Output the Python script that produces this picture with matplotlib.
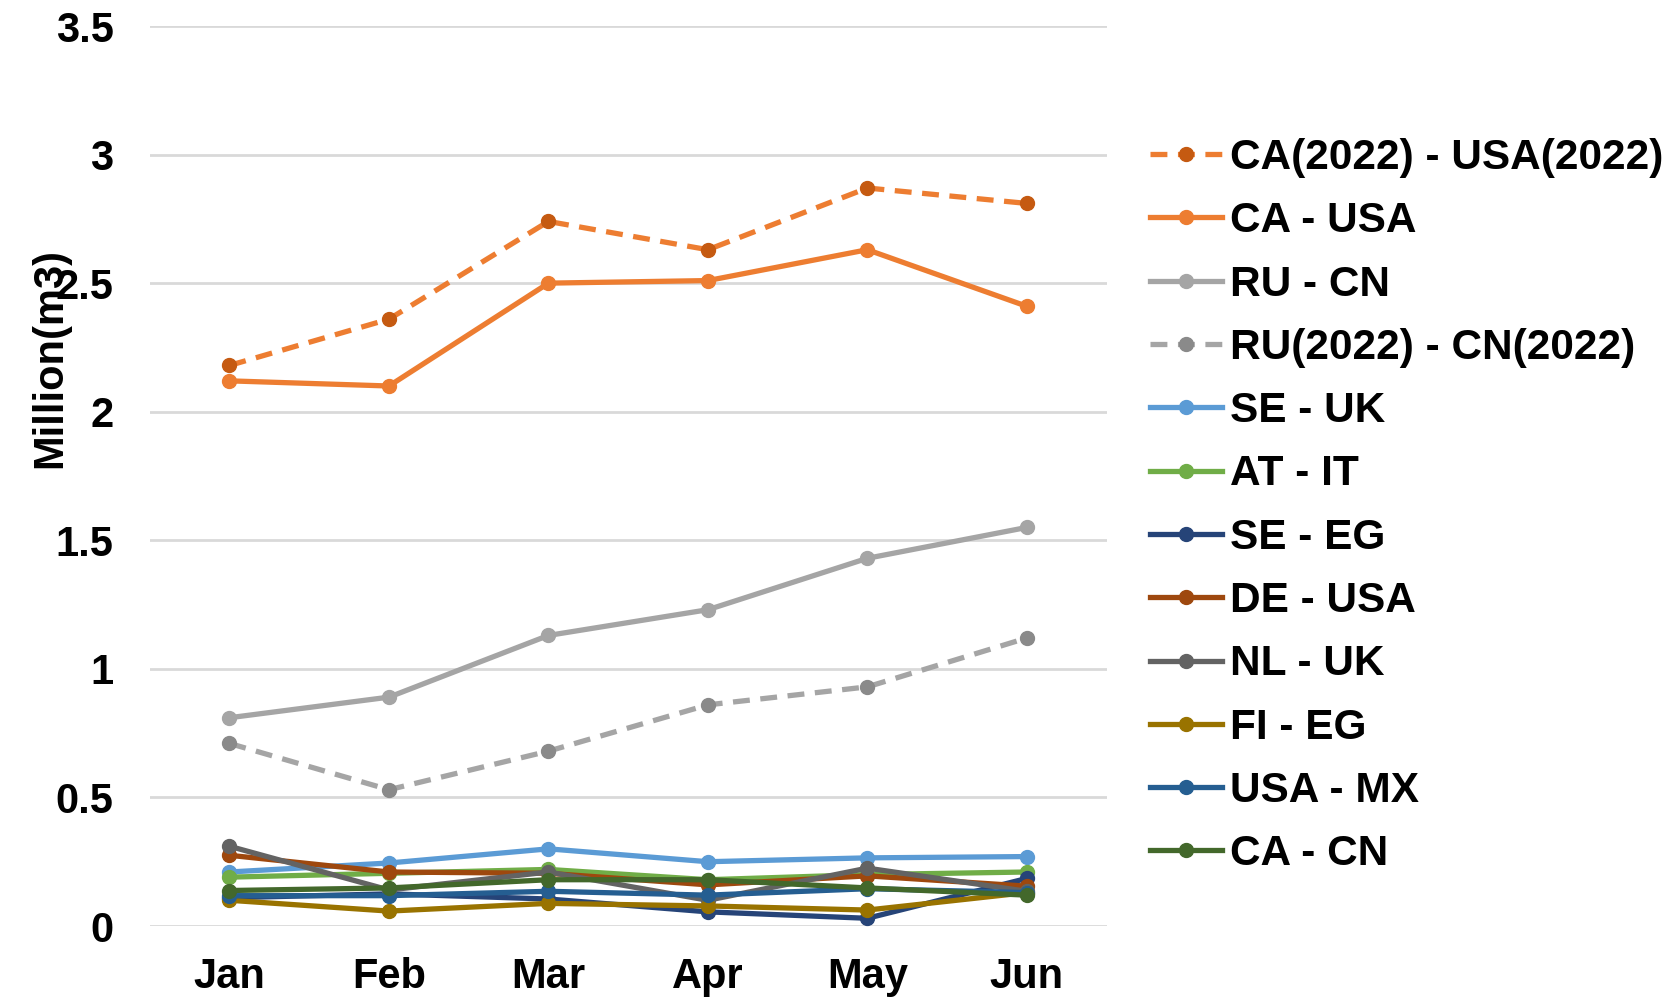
import matplotlib
matplotlib.use("Agg")
import matplotlib.pyplot as plt

plt.rcParams['font.family'] = ['Liberation Sans', 'DejaVu Sans']
plt.rcParams['font.weight'] = 'bold'

# data
months = ["Jan", "Feb", "Mar", "Apr", "May", "Jun"]
ca_usa_2022 = [2.18, 2.36, 2.74, 2.63, 2.87, 2.81]
ca_usa = [2.12, 2.10, 2.50, 2.51, 2.63, 2.41]
ru_cn = [0.81, 0.89, 1.13, 1.23, 1.43, 1.55]
ru_cn_2022 = [0.71, 0.53, 0.68, 0.86, 0.93, 1.12]
se_uk = [0.21, 0.245, 0.30, 0.25, 0.265, 0.27]
at_it = [0.19, 0.205, 0.22, 0.18, 0.20, 0.21]
se_eg = [0.11, 0.125, 0.105, 0.055, 0.03, 0.185]
de_usa = [0.275, 0.21, 0.205, 0.16, 0.195, 0.155]
nl_uk = [0.31, 0.14, 0.21, 0.10, 0.225, 0.135]
fi_eg = [0.10, 0.058, 0.088, 0.078, 0.062, 0.13]
usa_mx = [0.118, 0.118, 0.135, 0.12, 0.145, 0.13]
ca_cn = [0.138, 0.148, 0.18, 0.18, 0.148, 0.12]

# (label, values, line colour, marker colour, dashed)
series = [
    ("CA(2022) - USA(2022)", ca_usa_2022, "#ED7D31", "#C55A11", True),
    ("CA - USA", ca_usa, "#ED7D31", "#ED7D31", False),
    ("RU - CN", ru_cn, "#A5A5A5", "#A5A5A5", False),
    ("RU(2022) - CN(2022)", ru_cn_2022, "#A5A5A5", "#8A8A8A", True),
    ("SE - UK", se_uk, "#5B9BD5", "#5B9BD5", False),
    ("AT - IT", at_it, "#70AD47", "#70AD47", False),
    ("SE - EG", se_eg, "#264478", "#264478", False),
    ("DE - USA", de_usa, "#9E480E", "#9E480E", False),
    ("NL - UK", nl_uk, "#636363", "#636363", False),
    ("FI - EG", fi_eg, "#997300", "#997300", False),
    ("USA - MX", usa_mx, "#255E91", "#255E91", False),
    ("CA - CN", ca_cn, "#43682B", "#43682B", False),
]

fig = plt.figure(figsize=(16.64, 10), dpi=100)
ax = fig.add_axes([0.090, 0.074, 0.575, 0.900])

x = range(len(months))
for label, vals, lc, mc, dashed in series:
    ax.plot(x, vals, color=lc, lw=3.8, marker='o', markersize=10,
            markerfacecolor=mc, markeredgecolor=mc,
            linestyle=(0, (3.2, 2.0)) if dashed else '-', label=label)

ax.set_xlim(-0.5, 5.5)
ax.set_ylim(0, 3.5)
ax.set_yticks([0, 0.5, 1, 1.5, 2, 2.5, 3, 3.5])
ax.set_yticklabels(["0", "0.5", "1", "1.5", "2", "2.5", "3", "3.5"])
ax.set_xticks(list(x))
ax.set_xticklabels(months)
ax.tick_params(axis='y', length=0, pad=26, labelsize=30)
ax.tick_params(axis='x', length=0, pad=22, labelsize=30)
ax.grid(axis='y', color='#D9D9D9', lw=2)
ax.set_axisbelow(True)
for s in ax.spines.values():
    s.set_visible(False)

ax.text(-0.104, 0.631, "Million(m3)", transform=ax.transAxes, rotation=90,
        ha='center', va='center', fontsize=30, fontweight='bold')

fig.legend(loc='upper left', bbox_to_anchor=(0.691, 0.862), frameon=False,
           fontsize=30.5, handlelength=1.7, handletextpad=0.19,
           labelspacing=0.55, borderaxespad=0, borderpad=0)

fig.savefig("out.png", dpi=100)
